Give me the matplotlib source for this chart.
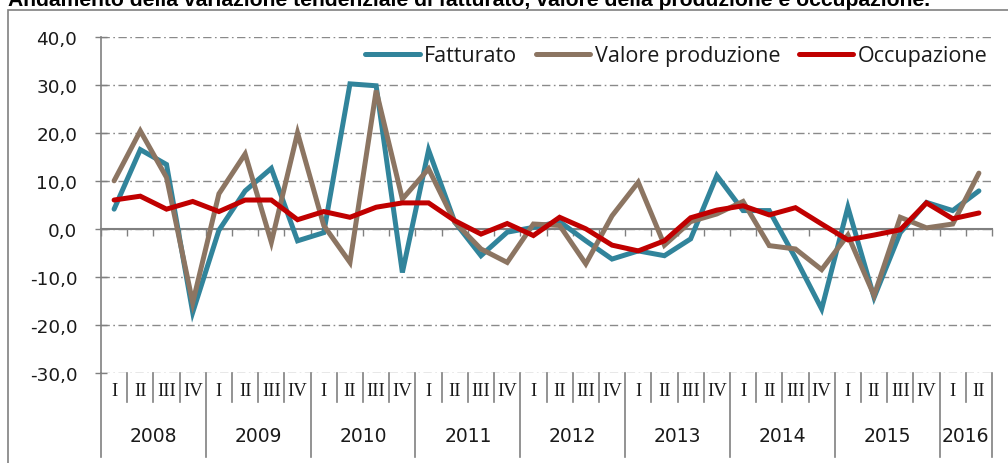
import matplotlib
matplotlib.use("Agg")
import matplotlib.pyplot as plt
from matplotlib.patches import Rectangle
from matplotlib.lines import Line2D
import matplotlib.transforms as mtransforms

# ---------------- data ----------------
years = ["2008", "2009", "2010", "2011", "2012", "2013", "2014", "2015", "2016"]
quarters_per_year = [4, 4, 4, 4, 4, 4, 4, 4, 2]
quarter_names = ["I", "II", "III", "IV"]

fatturato = [4.2, 16.6, 13.5, -17.3, -0.2, 8.0, 12.7, -2.4, -0.7, 30.3, 29.9, -9.0,
             16.5, 1.5, -5.5, -0.6, 0.4, 1.6, -2.4, -6.2, -4.5, -5.5, -2.0, 11.2,
             3.9, 3.9, -6.0, -16.6, 4.6, -14.2, -0.7, 5.6, 3.9, 8.0]
valore_produzione = [10.1, 20.5, 10.8, -15.3, 7.4, 15.7, -2.7, 20.1, 0.8, -6.9, 28.9, 6.3,
                     12.6, 1.5, -4.1, -6.9, 1.1, 0.8, -7.2, 2.8, 9.8, -3.3, 1.6, 3.2,
                     5.8, -3.4, -4.1, -8.4, -1.2, -13.8, 2.5, 0.3, 1.1, 11.7]
occupazione = [6.1, 6.9, 4.2, 5.8, 3.7, 6.1, 6.1, 2.0, 3.7, 2.5, 4.6, 5.5,
               5.5, 1.8, -1.0, 1.2, -1.3, 2.5, 0.1, -3.3, -4.5, -2.4, 2.4, 4.0,
               4.9, 3.0, 4.5, 1.1, -2.2, -1.2, -0.1, 5.5, 2.2, 3.4]

series_names = ["Fatturato", "Valore produzione", "Occupazione"]
series_colors = ["#31849B", "#8C7562", "#C00000"]
title = "Andamento della variazione tendenziale di fatturato, valore della produzione e occupazione."

y_ticks = [-30, -20, -10, 0, 10, 20, 30, 40]

# ---------------- figure ----------------
plt.rcParams["lines.scale_dashes"] = False
W, H = 1008, 464
fig = plt.figure(figsize=(W / 100, H / 100), dpi=100)

# outer frame
fig.patches.append(Rectangle((8 / W, -0.1), 1.2, 1 - 10.7 / H + 0.1,
                             transform=fig.transFigure, fill=False,
                             edgecolor="#808080", linewidth=1.2))
# title (partly cut at the top, as in the reference)
fig.text(8 / W, 1 - 5.5 / H, title, ha="left", va="baseline",
         fontsize=15.2, fontweight="bold", family="Liberation Sans", color="black")

ax_left, ax_right = 101 / W, 992 / W
ax_top, ax_bot = 1 - 38.3 / H, 1 - 374.3 / H
ax = fig.add_axes([ax_left, ax_bot, ax_right - ax_left, ax_top - ax_bot])

n = len(fatturato)
x = list(range(n))
for vals, name, col in zip([fatturato, valore_produzione, occupazione], series_names, series_colors):
    ax.plot(x, vals, color=col, linewidth=3.6, label=name,
            solid_capstyle="round", solid_joinstyle="miter", zorder=3)

ax.set_xlim(-0.5, n - 0.5)
ax.set_ylim(-30, 40)
ax.set_yticks(y_ticks)
ax.set_yticklabels([f"{v:.1f}".replace(".", ",") for v in y_ticks],
                   fontsize=13.2, family="DejaVu Sans", color="#1a1a1a")
ax.tick_params(axis="y", direction="inout", length=8, width=1, color="#808080", pad=13)

ax.grid(axis="y", color="#8a8a8a", linewidth=1.0, linestyle=(0, (6, 2.5, 1.2, 2.5)))
ax.set_axisbelow(True)

for s in ["top", "right"]:
    ax.spines[s].set_visible(False)
ax.spines["left"].set_color("#808080")
ax.spines["left"].set_linewidth(1.2)
ax.spines["bottom"].set_position(("data", 0))
ax.spines["bottom"].set_color("#808080")
ax.spines["bottom"].set_linewidth(1.5)
ax.spines["bottom"].set_zorder(2)
ax.set_xticks([i - 0.5 for i in range(n + 1)])
ax.set_xticklabels([])
ax.tick_params(axis="x", direction="out", length=5, width=1, color="#808080")

# category axis below the plot
trans = mtransforms.blended_transform_factory(ax.transData, ax.transAxes)
q_sep_bottom = -(403 - 374.3) / 336
y_sep_bottom = -(458 - 374.3) / 336
q_label_y = -(392 - 374.3) / 336
y_label_y = -(437 - 374.3) / 336
idx = 0
for yr, nq in zip(years, quarters_per_year):
    start = idx
    ax.add_line(Line2D([start - 0.5, start - 0.5], [0, y_sep_bottom], transform=trans,
                       color="#808080", linewidth=1.2, clip_on=False))
    for q in range(nq):
        if q > 0:
            ax.add_line(Line2D([idx - 0.5, idx - 0.5], [0, q_sep_bottom], transform=trans,
                               color="#808080", linewidth=1.2, clip_on=False))
        ax.text(idx, q_label_y, quarter_names[q], transform=trans, ha="center", va="center",
                fontsize=13.5, family="Liberation Serif", color="#1a1a1a")
        idx += 1
    ax.text((start + idx - 1) / 2, y_label_y, yr, transform=trans, ha="center", va="center",
            fontsize=13.5, family="DejaVu Sans", color="#1a1a1a")
ax.add_line(Line2D([idx - 0.5, idx - 0.5], [0, y_sep_bottom], transform=trans,
                   color="#808080", linewidth=1.2, clip_on=False))

leg = ax.legend(loc="center right", ncol=3, frameon=False,
                handlelength=2.55, handletextpad=0.2, columnspacing=0.85,
                bbox_to_anchor=(0.995, 1 - 18.4 / 336), borderaxespad=0.0, borderpad=0.0,
                prop={"family": "Open Sans", "size": 15.5})
for t in leg.get_texts():
    t.set_color("#1a1a1a")

fig.savefig("out.png", dpi=100)
